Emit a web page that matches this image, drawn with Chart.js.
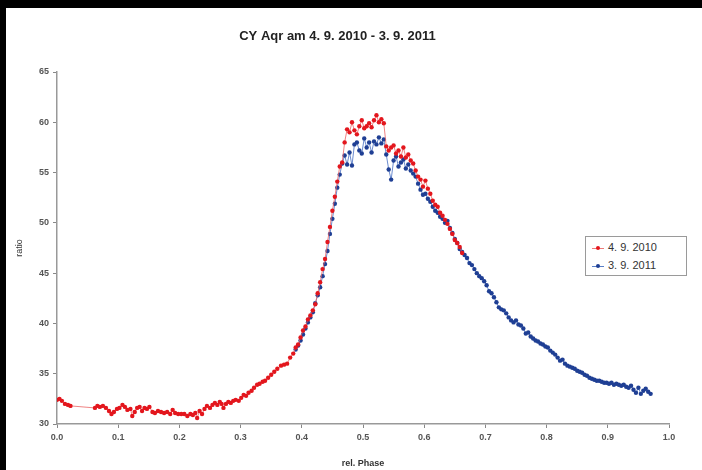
<!DOCTYPE html>
<html>
<head>
<meta charset="utf-8">
<script src="https://cdn.jsdelivr.net/npm/chart.js@4.4.0/dist/chart.umd.min.js"></script>
<style>
    body { margin: 0; background: #000; width: 702px; height: 470px; overflow: hidden; }
    #frame { position: absolute; left: 6px; top: 8px; width: 696px; height: 462px; background: #fff; }
    #legend {
        position: absolute; left: 579px; top: 228px; width: 100px; height: 38px;
        border: 1px solid #9a9a9a; background: #fff;
        font: 11px "Liberation Sans", Arial, sans-serif; color: #333;
    }
    #legend div { position: absolute; left: 6px; height: 14px; line-height: 14px; }
    #legend span.mark { display: inline-block; position: relative; width: 12px; height: 1px; vertical-align: middle; margin-right: 4px; }
    #legend span.mark i { position: absolute; left: 4px; top: -2px; width: 4px; height: 4px; border-radius: 2px; }
</style>
</head>
<body>
<div id="frame">
    <canvas id="chart" width="696" height="462"></canvas>
    <div id="legend">
        <div style="top:3px"><span class="mark" style="background:#ee7a7a"><i style="background:#e3161d"></i></span>4. 9. 2010</div>
        <div style="top:21px"><span class="mark" style="background:#5a80c8"><i style="background:#1f3f94"></i></span>3. 9. 2011</div>
    </div>
</div>
<script>
// rel. phase / ratio
const phase2010 = [0.000, 0.004, 0.008, 0.013, 0.018, 0.022,
    0.062, 0.066, 0.070, 0.075, 0.080, 0.085, 0.089, 0.093, 0.098, 0.102, 0.107, 0.111, 0.115, 0.120,
    0.123, 0.127, 0.131, 0.135, 0.139, 0.143, 0.147, 0.151, 0.156, 0.160, 0.165, 0.170, 0.175, 0.180,
    0.185, 0.189, 0.193, 0.198, 0.203, 0.208, 0.213, 0.218, 0.222, 0.226, 0.229, 0.233, 0.237, 0.241,
    0.245, 0.250, 0.254, 0.258, 0.262, 0.266, 0.269, 0.272, 0.276, 0.280, 0.284, 0.288, 0.292, 0.297,
    0.301, 0.305, 0.309, 0.313, 0.318, 0.322, 0.327, 0.331, 0.336, 0.340, 0.345, 0.350, 0.355, 0.360,
    0.366, 0.371, 0.376, 0.381, 0.386, 0.390, 0.394, 0.398, 0.402, 0.406, 0.410, 0.414, 0.418, 0.422,
    0.426, 0.430, 0.434, 0.438, 0.442, 0.446, 0.450, 0.454, 0.458, 0.462, 0.466, 0.470, 0.474, 0.478,
    0.482, 0.486, 0.490, 0.494, 0.498, 0.502, 0.506, 0.510, 0.514, 0.518, 0.522, 0.526, 0.530, 0.534,
    0.538, 0.542, 0.546, 0.550, 0.554, 0.558, 0.562, 0.566, 0.570, 0.574, 0.578, 0.582, 0.586, 0.590,
    0.594, 0.598, 0.602, 0.606, 0.610, 0.614, 0.618, 0.622, 0.626, 0.630, 0.634, 0.638, 0.642, 0.646,
    0.650, 0.654, 0.658, 0.662];
const ratio2010 = [32.4, 32.5, 32.3, 32.0, 31.9, 31.8,
    31.6, 31.8, 31.7, 31.8, 31.6, 31.3, 31.0, 31.2, 31.5, 31.6, 31.9, 31.7, 31.4, 31.5,
    30.8, 31.2, 31.6, 31.7, 31.3, 31.6, 31.5, 31.7, 31.2, 31.1, 31.3, 31.2, 31.1, 31.2,
    31.0, 31.4, 31.1, 31.0, 31.0, 31.0, 30.8, 31.0, 30.9, 31.1, 30.6, 31.3, 31.0, 31.5,
    31.8, 31.6, 31.9, 32.1, 31.9, 32.2, 32.0, 31.6, 32.0, 32.2, 32.1, 32.3, 32.4, 32.3,
    32.6, 32.9, 32.8, 33.1, 33.3, 33.6, 33.9, 34.0, 34.2, 34.3, 34.6, 34.9, 35.2, 35.5,
    35.8, 35.9, 36.0, 36.6, 37.0, 37.6, 37.9, 38.6, 39.3, 39.7, 40.4, 40.8, 41.3, 41.9,
    43.0, 44.1, 45.4, 46.4, 48.1, 49.6, 51.2, 52.6, 54.1, 55.6, 56.0, 58.0, 59.3, 59.0,
    60.0, 59.2, 58.8, 59.6, 60.2, 59.4, 59.6, 59.9, 59.5, 60.2, 60.7, 60.0, 60.3, 59.9,
    57.6, 57.2, 57.5, 57.7, 56.9, 57.2, 56.6, 57.5, 56.5, 56.8, 56.2, 55.9, 55.2, 54.6,
    54.3, 53.6, 54.2, 53.4, 52.9, 52.2, 51.8, 51.6, 51.0, 50.7, 50.3, 49.9, 49.4, 48.9,
    48.3, 48.0, 47.6, 47.0];

const phase2011 = [0.390, 0.394, 0.398, 0.402, 0.406, 0.410, 0.414, 0.418, 0.422, 0.426, 0.430, 0.434,
    0.438, 0.442, 0.446, 0.450, 0.454, 0.458, 0.462, 0.466, 0.470, 0.474, 0.478, 0.482, 0.486, 0.490,
    0.494, 0.498, 0.502, 0.506, 0.510, 0.514, 0.518, 0.522, 0.526, 0.530, 0.534, 0.538, 0.542, 0.546,
    0.550, 0.554, 0.558, 0.562, 0.566, 0.570, 0.574, 0.578, 0.582, 0.586, 0.590, 0.594, 0.598, 0.602,
    0.606, 0.610, 0.614, 0.618, 0.622, 0.626, 0.630, 0.634, 0.638, 0.642, 0.646, 0.650, 0.654, 0.658,
    0.662, 0.666, 0.670, 0.674, 0.678, 0.682, 0.686, 0.690, 0.694, 0.698, 0.702, 0.706, 0.710, 0.714,
    0.718, 0.722, 0.726, 0.730, 0.734, 0.738, 0.742, 0.746, 0.750, 0.754, 0.758, 0.762, 0.766, 0.770,
    0.774, 0.778, 0.782, 0.786, 0.790, 0.794, 0.798, 0.802, 0.806, 0.810, 0.814, 0.818, 0.822, 0.826,
    0.830, 0.834, 0.838, 0.842, 0.846, 0.850, 0.854, 0.858, 0.862, 0.866, 0.870, 0.874, 0.878, 0.882,
    0.886, 0.890, 0.894, 0.898, 0.902, 0.906, 0.910, 0.914, 0.918, 0.922, 0.926, 0.930, 0.934, 0.938,
    0.942, 0.946, 0.950, 0.954, 0.958, 0.962, 0.966, 0.970];
const ratio2011 = [37.4, 37.8, 38.3, 38.9, 39.5, 40.1, 40.6, 41.1, 42.0, 42.8, 43.6, 44.7,
    45.9, 47.2, 48.9, 50.4, 51.9, 53.5, 54.8, 55.9, 56.7, 55.8, 57.0, 55.7, 57.8, 58.0,
    57.2, 56.9, 58.4, 57.5, 58.0, 57.0, 58.1, 57.8, 58.5, 57.9, 58.3, 56.8, 55.3, 54.3,
    56.2, 56.6, 55.6, 56.0, 56.3, 55.4, 55.8, 55.2, 54.9, 54.6, 53.9, 53.3, 52.8, 52.9,
    52.4, 52.1, 51.6, 51.2, 51.0, 50.6, 50.4, 50.0, 50.2, 49.5, 49.0, 48.4, 48.0, 47.4,
    47.1, 46.8, 46.5, 46.0, 45.8, 45.4, 45.0, 44.7, 44.5, 44.2, 43.8, 43.2, 43.0, 42.6,
    42.1, 41.6, 41.4, 41.3, 41.0, 40.6, 40.3, 40.1, 40.3, 39.9, 39.8, 39.5, 39.0, 39.1,
    38.7, 38.5, 38.3, 38.2, 38.0, 37.9, 37.7, 37.6, 37.3, 37.1, 36.9, 36.6, 36.3, 36.4,
    36.0, 35.8, 35.7, 35.6, 35.5, 35.3, 35.2, 35.1, 34.9, 34.8, 34.6, 34.5, 34.4, 34.3,
    34.3, 34.2, 34.1, 34.1, 34.0, 34.1, 33.9, 34.0, 33.9, 33.8, 33.9, 33.7, 33.6, 33.8,
    33.4, 33.1, 33.6, 33.0, 33.3, 33.5, 33.2, 33.0];

const seriesLabels = ['4. 9. 2010', '3. 9. 2011'];

const toPoints = (xs, ys) => xs.map((x, i) => ({ x: x, y: ys[i] }));

const tickFont = { family: '"Liberation Sans", Arial, sans-serif', size: 9, weight: 'bold' };

new Chart(document.getElementById('chart'), {
    type: 'scatter',
    data: {
        datasets: [
            {
                label: seriesLabels[0],
                data: toPoints(phase2010, ratio2010),
                showLine: true,
                borderColor: 'rgba(235, 100, 100, 0.8)',
                borderWidth: 1,
                backgroundColor: '#e3161d',
                pointBorderWidth: 0,
                pointRadius: 2.2,
                order: 0
            },
            {
                label: seriesLabels[1],
                data: toPoints(phase2011, ratio2011),
                showLine: true,
                borderColor: 'rgba(70, 110, 195, 0.8)',
                borderWidth: 1,
                backgroundColor: '#1f3f94',
                pointBorderWidth: 0,
                pointRadius: 2.2,
                order: 1
            }
        ]
    },
    options: {
        responsive: false,
        animation: false,
        layout: { padding: { left: 0, right: 33, top: 0, bottom: 0 } },
        plugins: {
            legend: { display: false },
            tooltip: { enabled: false },
            title: {
                display: true,
                text: 'CY Aqr am 4. 9. 2010 - 3. 9. 2011',
                color: '#222',
                font: { family: '"Liberation Sans", Arial, sans-serif', size: 13, weight: 'bold' },
                padding: { top: 21, bottom: 27.4 }
            }
        },
        scales: {
            x: {
                type: 'linear',
                min: 0,
                max: 1,
                afterFit: (scale) => { scale.height = 46; },
                ticks: {
                    stepSize: 0.1,
                    color: '#555',
                    font: tickFont,
                    padding: 4,
                    callback: (v) => v.toFixed(1)
                },
                grid: { drawOnChartArea: false, tickLength: 4, color: '#888' },
                border: { color: '#999', width: 1.5 },
                title: {
                    display: true,
                    text: 'rel. Phase',
                    color: '#333',
                    font: tickFont,
                    padding: { top: 0, bottom: 1 }
                }
            },
            y: {
                min: 30,
                max: 65,
                afterFit: (scale) => { scale.width = 51; },
                ticks: {
                    stepSize: 5,
                    color: '#555',
                    font: tickFont,
                    padding: 4
                },
                grid: { drawOnChartArea: false, tickLength: 4, color: '#888' },
                border: { color: '#999', width: 1.5 },
                title: {
                    display: true,
                    text: 'ratio',
                    color: '#333',
                    font: { family: '"Liberation Sans", Arial, sans-serif', size: 9 },
                    padding: { top: 8, bottom: 0 }
                }
            }
        }
    }
});
</script>
</body>
</html>
